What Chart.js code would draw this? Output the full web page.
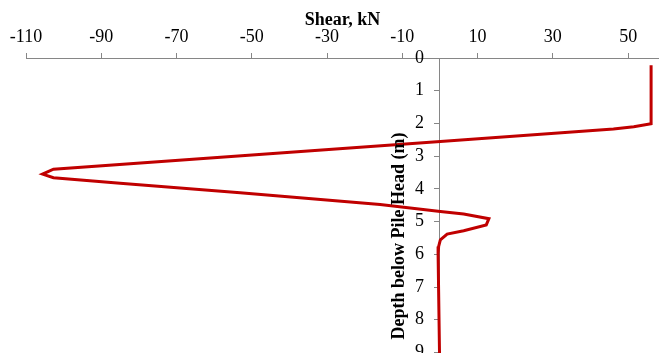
<!DOCTYPE html>
<html>
<head>
<meta charset="utf-8">
<script src="https://cdn.jsdelivr.net/npm/chart.js@4"></script>
<style>
  html, body { margin: 0; padding: 0; overflow: hidden; background: #fff; }
  #wrap { width: 659px; height: 399px; }
</style>
</head>
<body>
<div id="wrap"><canvas id="myChart"></canvas></div>
<script>
// Shear (kN) along the pile
var shear = [56.1, 56.1, 51.5, 46.1, 0.1, -102.7, -105.6, -102.7, -85.0, -53.1, -15.9, 0.1, 6.3, 13.0, 12.3, 6.3, 1.9, 0.1, -0.35, -0.5, -0.1];
var depth = [0.22, 2.01, 2.10, 2.17, 2.55, 3.40, 3.55, 3.66, 3.83, 4.12, 4.48, 4.69, 4.77, 4.91, 5.10, 5.28, 5.38, 5.56, 5.76, 5.98, 9.2];

var xTicks = [-110, -90, -70, -50, -30, -10, 10, 30, 50];
var yTicks = [0, 1, 2, 3, 4, 5, 6, 7, 8, 9, 10];

var xTitle = 'Shear, kN';
var yTitle = 'Depth below Pile Head (m)';

Chart.defaults.font.family = '"Liberation Serif", "Times New Roman", serif';
Chart.defaults.font.size = 18;
Chart.defaults.color = '#000';

var points = shear.map(function (v, i) { return { x: v, y: depth[i] }; });

// titre vertical, lu de bas en haut
const yTitlePlugin = {
    id: 'yTitle',
    afterDraw(chart) {
        const ctx = chart.ctx;
        ctx.save();
        ctx.translate(399, 236);
        ctx.rotate(-Math.PI / 2);
        ctx.font = 'bold 18px "Liberation Serif", serif';
        ctx.fillStyle = '#000';
        ctx.textAlign = 'center';
        ctx.textBaseline = 'middle';
        ctx.fillText(yTitle, 0, 0);
        ctx.restore();
    }
};

// l'axe y croise en x=0 : on décale les libellés à gauche des graduations
function shiftYLabels(s) {
    const orig = Object.getPrototypeOf(s)._computeLabelItems;
    s._computeLabelItems = function (area) {
        const items = orig.call(this, area);
        items.forEach(it => { it.options.translation[0] -= 16; });
        return items;
    };
}

const ctx = document.getElementById('myChart');
const chart = new Chart(ctx, {
    type: 'scatter',
    data: {
        datasets: [{
            data: points,
            showLine: true,
            borderColor: '#C00000',
            borderWidth: 3,
            pointRadius: 0,
            tension: 0,
            fill: false
        }]
    },
    options: {
        responsive: true,
        maintainAspectRatio: false,
        animation: false,
        layout: { padding: { left: 26, right: 0, top: 0, bottom: 0 } },
        plugins: { legend: { display: false }, tooltip: { enabled: false } },
        scales: {
            x: {
                type: 'linear',
                position: 'top',
                min: -110,
                max: 58.2,
                afterBuildTicks: s => { s.ticks = xTicks.map(v => ({ value: v })); },
                afterFit: s => { s.height = 58; },
                grid: { drawOnChartArea: false, drawTicks: true, tickLength: 5, color: '#868686' },
                border: { color: '#868686', width: 1 },
                ticks: { padding: 5, maxRotation: 0, autoSkip: false },
                title: {
                    display: true,
                    text: xTitle,
                    font: { weight: 'bold', size: 18 },
                    padding: { top: 10, bottom: 0 }
                }
            },
            y: {
                type: 'linear',
                position: { x: 0 },
                reverse: true,
                min: 0,
                max: 10,
                afterBuildTicks: s => { s.ticks = yTicks.map(v => ({ value: v })); },
                afterUpdate: shiftYLabels,
                grid: { drawOnChartArea: false, drawTicks: true, tickLength: 5, color: '#868686' },
                border: { color: '#868686', width: 1 },
                ticks: { autoSkip: false }
            }
        }
    },
    plugins: [yTitlePlugin]
});
</script>
</body>
</html>
